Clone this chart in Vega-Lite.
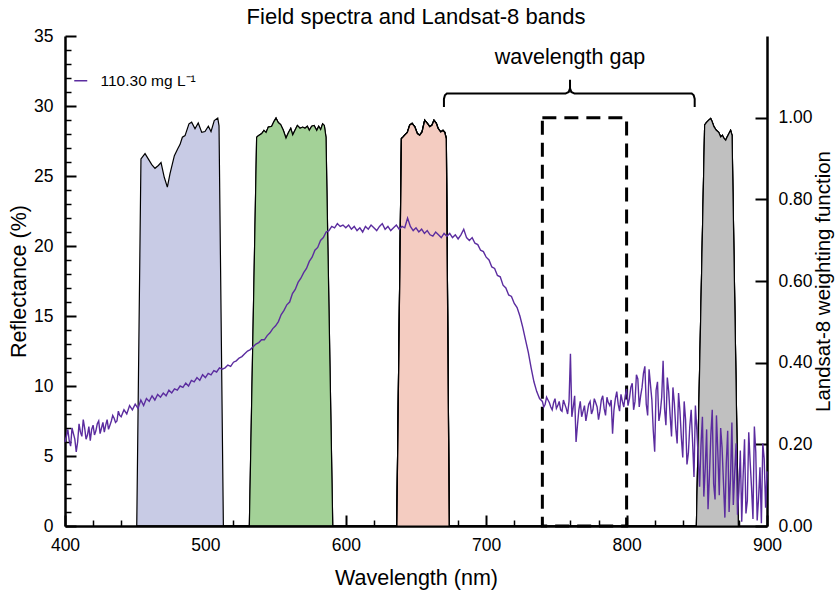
{
  "$schema": "https://vega.github.io/schema/vega-lite/v6.json",
  "width": 702,
  "height": 490,
  "autosize": {"type": "none"},
  "padding": {"left": 65, "top": 36, "right": 69, "bottom": 66},
  "background": "white",
  "config": {
    "font": "Liberation Sans",
    "view": {"stroke": null},
    "axis": {"grid": false, "domainColor": "black", "tickColor": "black", "labelColor": "black", "titleColor": "black", "labelFont": "Liberation Sans", "titleFont": "Liberation Sans", "titleFontWeight": "normal", "labelOverlap": false, "labelFlush": false}
  },
  "title": {"text": "Field spectra and Landsat-8 bands", "fontSize": 22, "fontWeight": "normal", "anchor": "middle", "offset": -2, "color": "black", "font": "Liberation Sans"},
  "datasets": {
    "bands": [
      {"band": "blue", "wl": 451.1, "w": 0},
      {"band": "blue", "wl": 454.1, "w": 0.899},
      {"band": "blue", "wl": 457.0, "w": 0.912},
      {"band": "blue", "wl": 459.3, "w": 0.899},
      {"band": "blue", "wl": 461.8, "w": 0.885},
      {"band": "blue", "wl": 464.1, "w": 0.876},
      {"band": "blue", "wl": 466.5, "w": 0.883},
      {"band": "blue", "wl": 468.4, "w": 0.890},
      {"band": "blue", "wl": 470.7, "w": 0.854},
      {"band": "blue", "wl": 472.9, "w": 0.830},
      {"band": "blue", "wl": 474.8, "w": 0.863},
      {"band": "blue", "wl": 477.9, "w": 0.907},
      {"band": "blue", "wl": 480.3, "w": 0.924},
      {"band": "blue", "wl": 481.9, "w": 0.934},
      {"band": "blue", "wl": 483.6, "w": 0.952},
      {"band": "blue", "wl": 485.5, "w": 0.956},
      {"band": "blue", "wl": 488.3, "w": 0.985},
      {"band": "blue", "wl": 490.2, "w": 0.989},
      {"band": "blue", "wl": 492.6, "w": 0.973},
      {"band": "blue", "wl": 494.9, "w": 0.987},
      {"band": "blue", "wl": 497.4, "w": 0.964},
      {"band": "blue", "wl": 499.7, "w": 0.966},
      {"band": "blue", "wl": 502.1, "w": 0.979},
      {"band": "blue", "wl": 504.0, "w": 0.966},
      {"band": "blue", "wl": 506.3, "w": 0.993},
      {"band": "blue", "wl": 508.8, "w": 0.999},
      {"band": "blue", "wl": 509.7, "w": 0.980},
      {"band": "blue", "wl": 512.8, "w": 0},
      {"band": "green", "wl": 531.3, "w": 0},
      {"band": "green", "wl": 536.5, "w": 0.952},
      {"band": "green", "wl": 537.7, "w": 0.956},
      {"band": "green", "wl": 540.1, "w": 0.961},
      {"band": "green", "wl": 541.7, "w": 0.969},
      {"band": "green", "wl": 543.2, "w": 0.964},
      {"band": "green", "wl": 544.8, "w": 0.977},
      {"band": "green", "wl": 547.2, "w": 0.979},
      {"band": "green", "wl": 548.9, "w": 0.991},
      {"band": "green", "wl": 550.3, "w": 0.999},
      {"band": "green", "wl": 551.9, "w": 0.988},
      {"band": "green", "wl": 553.6, "w": 0.983},
      {"band": "green", "wl": 555.5, "w": 0.969},
      {"band": "green", "wl": 557.4, "w": 0.950},
      {"band": "green", "wl": 559.1, "w": 0.963},
      {"band": "green", "wl": 560.8, "w": 0.974},
      {"band": "green", "wl": 562.2, "w": 0.958},
      {"band": "green", "wl": 563.8, "w": 0.969},
      {"band": "green", "wl": 565.5, "w": 0.981},
      {"band": "green", "wl": 567.4, "w": 0.974},
      {"band": "green", "wl": 569.3, "w": 0.977},
      {"band": "green", "wl": 570.9, "w": 0.974},
      {"band": "green", "wl": 572.6, "w": 0.979},
      {"band": "green", "wl": 574.0, "w": 0.969},
      {"band": "green", "wl": 575.7, "w": 0.979},
      {"band": "green", "wl": 577.4, "w": 0.981},
      {"band": "green", "wl": 579.3, "w": 0.969},
      {"band": "green", "wl": 580.7, "w": 0.979},
      {"band": "green", "wl": 582.1, "w": 0.971},
      {"band": "green", "wl": 583.5, "w": 0.985},
      {"band": "green", "wl": 584.7, "w": 0.981},
      {"band": "green", "wl": 585.9, "w": 0.952},
      {"band": "green", "wl": 590.7, "w": 0},
      {"band": "red", "wl": 636.3, "w": 0},
      {"band": "red", "wl": 639.6, "w": 0.949},
      {"band": "red", "wl": 640.8, "w": 0.953},
      {"band": "red", "wl": 642.4, "w": 0.959},
      {"band": "red", "wl": 643.8, "w": 0.964},
      {"band": "red", "wl": 645.5, "w": 0.982},
      {"band": "red", "wl": 647.2, "w": 0.986},
      {"band": "red", "wl": 649.1, "w": 0.978},
      {"band": "red", "wl": 651.0, "w": 0.961},
      {"band": "red", "wl": 652.6, "w": 0.957},
      {"band": "red", "wl": 654.3, "w": 0.965},
      {"band": "red", "wl": 656.2, "w": 0.994},
      {"band": "red", "wl": 658.1, "w": 0.986},
      {"band": "red", "wl": 659.8, "w": 0.978},
      {"band": "red", "wl": 661.4, "w": 0.982},
      {"band": "red", "wl": 662.8, "w": 0.994},
      {"band": "red", "wl": 664.5, "w": 0.986},
      {"band": "red", "wl": 665.7, "w": 0.974},
      {"band": "red", "wl": 667.6, "w": 0.965},
      {"band": "red", "wl": 669.2, "w": 0.969},
      {"band": "red", "wl": 670.5, "w": 0.964},
      {"band": "red", "wl": 671.6, "w": 0.949},
      {"band": "red", "wl": 673.7, "w": 0},
      {"band": "nir", "wl": 849.7, "w": 0},
      {"band": "nir", "wl": 855.6, "w": 0.982},
      {"band": "nir", "wl": 856.8, "w": 0.988},
      {"band": "nir", "wl": 858.5, "w": 0.994},
      {"band": "nir", "wl": 859.9, "w": 0.998},
      {"band": "nir", "wl": 860.8, "w": 0.991},
      {"band": "nir", "wl": 862.2, "w": 0.978},
      {"band": "nir", "wl": 863.9, "w": 0.969},
      {"band": "nir", "wl": 865.6, "w": 0.964},
      {"band": "nir", "wl": 867.0, "w": 0.953},
      {"band": "nir", "wl": 868.2, "w": 0.957},
      {"band": "nir", "wl": 869.4, "w": 0.949},
      {"band": "nir", "wl": 870.6, "w": 0.945},
      {"band": "nir", "wl": 871.7, "w": 0.953},
      {"band": "nir", "wl": 872.9, "w": 0.961},
      {"band": "nir", "wl": 874.1, "w": 0.969},
      {"band": "nir", "wl": 875.1, "w": 0.957},
      {"band": "nir", "wl": 879.6, "w": 0}
    ],
    "gapbox": [{"wl": 740, "wl2": 800, "w": 0, "w2": 1.0}],
    "bracket": [
      {"i": 0, "wl": 669.9, "w": 1.026},
      {"i": 1, "wl": 669.9, "w": 1.046},
      {"i": 2, "wl": 670.6, "w": 1.055},
      {"i": 3, "wl": 672.0, "w": 1.059},
      {"i": 4, "wl": 756.5, "w": 1.059},
      {"i": 5, "wl": 758.8, "w": 1.063},
      {"i": 6, "wl": 759.7, "w": 1.072},
      {"i": 7, "wl": 759.7, "w": 1.093},
      {"i": 8, "wl": 759.7, "w": 1.072},
      {"i": 9, "wl": 760.6, "w": 1.063},
      {"i": 10, "wl": 762.9, "w": 1.059},
      {"i": 11, "wl": 846.4, "w": 1.059},
      {"i": 12, "wl": 847.8, "w": 1.055},
      {"i": 13, "wl": 848.5, "w": 1.046},
      {"i": 14, "wl": 848.5, "w": 1.026}
    ],
    "gaplabel": [{"wl": 759.7, "w": 1.145, "label": "wavelength gap"}],
    "spectrum": [
      {"wl": 400, "r": 6.0}, {"wl": 402, "r": 6.9}, {"wl": 404, "r": 5.7}, {"wl": 406, "r": 6.6}, {"wl": 408, "r": 5.3},
      {"wl": 410, "r": 7.3}, {"wl": 412, "r": 6.4}, {"wl": 414, "r": 7.0}, {"wl": 416, "r": 6.5}, {"wl": 418, "r": 6.1},
      {"wl": 420, "r": 7.2}, {"wl": 422, "r": 6.8}, {"wl": 424, "r": 7.5}, {"wl": 426, "r": 7.0}, {"wl": 428, "r": 6.7},
      {"wl": 430, "r": 7.6}, {"wl": 432, "r": 7.2}, {"wl": 434, "r": 7.9}, {"wl": 436, "r": 7.4}, {"wl": 438, "r": 8.2},
      {"wl": 440, "r": 7.8}, {"wl": 442, "r": 8.3}, {"wl": 444, "r": 8.0}, {"wl": 446, "r": 8.6}, {"wl": 448, "r": 8.3},
      {"wl": 450, "r": 8.7}, {"wl": 452, "r": 8.4}, {"wl": 454, "r": 9.0}, {"wl": 456, "r": 8.6}, {"wl": 458, "r": 9.1},
      {"wl": 460, "r": 8.9}, {"wl": 462, "r": 9.3}, {"wl": 464, "r": 9.0}, {"wl": 466, "r": 9.4}, {"wl": 468, "r": 9.2},
      {"wl": 470, "r": 9.5}, {"wl": 472, "r": 9.3}, {"wl": 474, "r": 9.7}, {"wl": 476, "r": 9.5}, {"wl": 478, "r": 9.8},
      {"wl": 480, "r": 9.7}, {"wl": 482, "r": 10.0}, {"wl": 484, "r": 9.9}, {"wl": 486, "r": 10.2}, {"wl": 488, "r": 10.0},
      {"wl": 490, "r": 10.4}, {"wl": 492, "r": 10.3}, {"wl": 494, "r": 10.6}, {"wl": 496, "r": 10.4}, {"wl": 498, "r": 10.8},
      {"wl": 500, "r": 10.6}, {"wl": 502, "r": 10.9}, {"wl": 504, "r": 10.8}, {"wl": 506, "r": 11.1}, {"wl": 508, "r": 11.0},
      {"wl": 510, "r": 11.3}, {"wl": 512, "r": 11.2}, {"wl": 514, "r": 11.3}, {"wl": 516, "r": 11.5}, {"wl": 518, "r": 11.4},
      {"wl": 520, "r": 11.7}, {"wl": 522, "r": 11.8}, {"wl": 524, "r": 12.0}, {"wl": 526, "r": 12.1}, {"wl": 528, "r": 12.3},
      {"wl": 530, "r": 12.5}, {"wl": 532, "r": 12.6}, {"wl": 534, "r": 12.8}, {"wl": 536, "r": 13.0}, {"wl": 538, "r": 13.1},
      {"wl": 540, "r": 13.3}, {"wl": 542, "r": 13.3}, {"wl": 544, "r": 13.6}, {"wl": 546, "r": 13.8}, {"wl": 548, "r": 14.1},
      {"wl": 550, "r": 14.3}, {"wl": 552, "r": 14.6}, {"wl": 554, "r": 15.1}, {"wl": 556, "r": 15.4}, {"wl": 558, "r": 15.8},
      {"wl": 560, "r": 16.0}, {"wl": 562, "r": 16.6}, {"wl": 564, "r": 16.9}, {"wl": 566, "r": 17.4}, {"wl": 568, "r": 17.7},
      {"wl": 570, "r": 18.1}, {"wl": 572, "r": 18.4}, {"wl": 574, "r": 18.9}, {"wl": 576, "r": 19.2}, {"wl": 578, "r": 19.7},
      {"wl": 580, "r": 19.9}, {"wl": 582, "r": 20.4}, {"wl": 584, "r": 20.6}, {"wl": 586, "r": 21.0}, {"wl": 588, "r": 21.1},
      {"wl": 590, "r": 21.4}, {"wl": 592, "r": 21.3}, {"wl": 594, "r": 21.6}, {"wl": 596, "r": 21.4}, {"wl": 598, "r": 21.5},
      {"wl": 600, "r": 21.3}, {"wl": 602, "r": 21.5}, {"wl": 604, "r": 21.2}, {"wl": 606, "r": 21.4}, {"wl": 608, "r": 21.1},
      {"wl": 610, "r": 21.3}, {"wl": 612, "r": 21.0}, {"wl": 614, "r": 21.4}, {"wl": 616, "r": 21.2}, {"wl": 618, "r": 21.5},
      {"wl": 620, "r": 21.3}, {"wl": 622, "r": 21.1}, {"wl": 624, "r": 21.4}, {"wl": 626, "r": 21.6}, {"wl": 628, "r": 21.2},
      {"wl": 630, "r": 21.4}, {"wl": 632, "r": 21.1}, {"wl": 634, "r": 21.3}, {"wl": 636, "r": 21.5}, {"wl": 638, "r": 21.2},
      {"wl": 640, "r": 21.4}, {"wl": 642, "r": 21.3}, {"wl": 644, "r": 22.0}, {"wl": 646, "r": 21.4}, {"wl": 648, "r": 21.1},
      {"wl": 650, "r": 21.3}, {"wl": 652, "r": 21.0}, {"wl": 654, "r": 21.2}, {"wl": 656, "r": 20.9}, {"wl": 658, "r": 21.1},
      {"wl": 660, "r": 20.8}, {"wl": 662, "r": 20.7}, {"wl": 664, "r": 21.0}, {"wl": 666, "r": 20.8}, {"wl": 668, "r": 20.6},
      {"wl": 670, "r": 20.9}, {"wl": 672, "r": 20.7}, {"wl": 674, "r": 20.9}, {"wl": 676, "r": 20.6}, {"wl": 678, "r": 20.8},
      {"wl": 680, "r": 20.5}, {"wl": 682, "r": 20.8}, {"wl": 684, "r": 21.2}, {"wl": 686, "r": 20.6}, {"wl": 688, "r": 20.4},
      {"wl": 690, "r": 20.6}, {"wl": 692, "r": 20.2}, {"wl": 694, "r": 20.1}, {"wl": 696, "r": 19.7}, {"wl": 698, "r": 19.6},
      {"wl": 700, "r": 19.2}, {"wl": 702, "r": 19.0}, {"wl": 704, "r": 18.5}, {"wl": 706, "r": 18.4}, {"wl": 708, "r": 17.9},
      {"wl": 710, "r": 17.8}, {"wl": 712, "r": 17.2}, {"wl": 714, "r": 17.0}, {"wl": 716, "r": 16.5}, {"wl": 718, "r": 16.4},
      {"wl": 720, "r": 15.9}, {"wl": 722, "r": 15.6}, {"wl": 724, "r": 15.0}, {"wl": 726, "r": 14.2}, {"wl": 728, "r": 13.3},
      {"wl": 730, "r": 12.4}, {"wl": 732, "r": 11.3}, {"wl": 734, "r": 10.3}, {"wl": 736, "r": 9.6}, {"wl": 738, "r": 9.1},
      {"wl": 740, "r": 8.9}, {"wl": 742, "r": 8.7}, {"wl": 744, "r": 9.0}, {"wl": 746, "r": 8.5}, {"wl": 748, "r": 8.8},
      {"wl": 750, "r": 8.4}, {"wl": 752, "r": 8.9}, {"wl": 754, "r": 8.2}, {"wl": 756, "r": 8.7}, {"wl": 758, "r": 8.0},
      {"wl": 760, "r": 12.3}, {"wl": 762, "r": 8.5}, {"wl": 764, "r": 6.0}, {"wl": 766, "r": 8.3}, {"wl": 768, "r": 7.8},
      {"wl": 770, "r": 8.6}, {"wl": 772, "r": 8.1}, {"wl": 774, "r": 8.9}, {"wl": 776, "r": 8.3}, {"wl": 778, "r": 8.8},
      {"wl": 780, "r": 7.6}, {"wl": 782, "r": 9.0}, {"wl": 784, "r": 8.4}, {"wl": 786, "r": 9.2}, {"wl": 788, "r": 8.6},
      {"wl": 790, "r": 6.6}, {"wl": 792, "r": 9.1}, {"wl": 794, "r": 8.7}, {"wl": 796, "r": 9.4}, {"wl": 798, "r": 8.5},
      {"wl": 800, "r": 9.8}, {"wl": 802, "r": 9.1}, {"wl": 804, "r": 10.2}, {"wl": 806, "r": 8.9}, {"wl": 808, "r": 10.5},
      {"wl": 810, "r": 9.3}, {"wl": 812, "r": 10.9}, {"wl": 814, "r": 8.7}, {"wl": 816, "r": 11.2}, {"wl": 818, "r": 9.0},
      {"wl": 820, "r": 5.3}, {"wl": 822, "r": 10.3}, {"wl": 824, "r": 8.1}, {"wl": 826, "r": 11.8}, {"wl": 828, "r": 7.2},
      {"wl": 830, "r": 9.6}, {"wl": 832, "r": 6.4}, {"wl": 834, "r": 8.8}, {"wl": 836, "r": 5.9}, {"wl": 838, "r": 8.2},
      {"wl": 840, "r": 4.9}, {"wl": 842, "r": 7.6}, {"wl": 844, "r": 5.2}, {"wl": 846, "r": 8.3}, {"wl": 848, "r": 3.5},
      {"wl": 850, "r": 6.9}, {"wl": 852, "r": 2.8}, {"wl": 854, "r": 7.8}, {"wl": 856, "r": 4.1}, {"wl": 858, "r": 1.2},
      {"wl": 860, "r": 6.5}, {"wl": 862, "r": 3.0}, {"wl": 864, "r": 7.9}, {"wl": 866, "r": 2.2}, {"wl": 868, "r": 5.6},
      {"wl": 870, "r": 0.6}, {"wl": 872, "r": 6.8}, {"wl": 874, "r": 3.4}, {"wl": 876, "r": 1.5}, {"wl": 878, "r": 5.9},
      {"wl": 880, "r": 2.5}, {"wl": 882, "r": 0.3}, {"wl": 884, "r": 6.2}, {"wl": 886, "r": 1.8}, {"wl": 888, "r": 4.6},
      {"wl": 890, "r": 0.5}, {"wl": 892, "r": 5.3}, {"wl": 894, "r": 2.0}, {"wl": 896, "r": 0.2}, {"wl": 898, "r": 4.8},
      {"wl": 900, "r": 3.9},
      {"wl": 401, "r": 6.4}, {"wl": 403, "r": 6.1}, {"wl": 405, "r": 7.0}, {"wl": 407, "r": 6.2}, {"wl": 409, "r": 6.0},
      {"wl": 411, "r": 6.7}, {"wl": 413, "r": 7.6}, {"wl": 415, "r": 6.2}, {"wl": 417, "r": 7.1}, {"wl": 419, "r": 6.9},
      {"wl": 421, "r": 6.5}, {"wl": 423, "r": 7.3}, {"wl": 425, "r": 6.6}, {"wl": 427, "r": 7.4}, {"wl": 429, "r": 7.2},
      {"wl": 431, "r": 6.9}, {"wl": 433, "r": 7.5}, {"wl": 435, "r": 7.7}, {"wl": 437, "r": 7.5}, {"wl": 439, "r": 7.9},
      {"wl": 741, "r": 8.5}, {"wl": 743, "r": 9.2}, {"wl": 745, "r": 8.8}, {"wl": 747, "r": 8.3}, {"wl": 749, "r": 9.1},
      {"wl": 751, "r": 8.6}, {"wl": 753, "r": 8.3}, {"wl": 755, "r": 9.0}, {"wl": 757, "r": 8.4}, {"wl": 759, "r": 8.9},
      {"wl": 761, "r": 7.8}, {"wl": 763, "r": 9.3}, {"wl": 765, "r": 7.2}, {"wl": 767, "r": 8.9}, {"wl": 769, "r": 8.2},
      {"wl": 771, "r": 7.5}, {"wl": 773, "r": 8.7}, {"wl": 775, "r": 8.0}, {"wl": 777, "r": 9.1}, {"wl": 779, "r": 8.5},
      {"wl": 781, "r": 8.2}, {"wl": 783, "r": 9.3}, {"wl": 785, "r": 7.9}, {"wl": 787, "r": 8.8}, {"wl": 789, "r": 9.0},
      {"wl": 791, "r": 8.3}, {"wl": 793, "r": 9.6}, {"wl": 795, "r": 8.2}, {"wl": 797, "r": 8.9}, {"wl": 799, "r": 9.3},
      {"wl": 801, "r": 8.6}, {"wl": 803, "r": 9.9}, {"wl": 805, "r": 8.3}, {"wl": 807, "r": 10.8}, {"wl": 809, "r": 8.5},
      {"wl": 811, "r": 9.9}, {"wl": 813, "r": 11.4}, {"wl": 815, "r": 7.9}, {"wl": 817, "r": 10.1}, {"wl": 819, "r": 6.8},
      {"wl": 821, "r": 9.7}, {"wl": 823, "r": 7.5}, {"wl": 825, "r": 9.2}, {"wl": 827, "r": 8.4}, {"wl": 829, "r": 10.6},
      {"wl": 831, "r": 7.9}, {"wl": 833, "r": 9.9}, {"wl": 835, "r": 7.0}, {"wl": 837, "r": 9.5}, {"wl": 839, "r": 6.3},
      {"wl": 841, "r": 8.9}, {"wl": 843, "r": 4.4}, {"wl": 845, "r": 7.1}, {"wl": 847, "r": 6.0}, {"wl": 849, "r": 8.6},
      {"wl": 851, "r": 4.9}, {"wl": 853, "r": 5.8}, {"wl": 855, "r": 2.1}, {"wl": 857, "r": 6.9}, {"wl": 859, "r": 3.6},
      {"wl": 861, "r": 8.3}, {"wl": 863, "r": 1.9}, {"wl": 865, "r": 5.2}, {"wl": 867, "r": 7.0}, {"wl": 869, "r": 3.1},
      {"wl": 871, "r": 4.5}, {"wl": 873, "r": 1.0}, {"wl": 875, "r": 7.4}, {"wl": 877, "r": 3.8}, {"wl": 879, "r": 0.8},
      {"wl": 881, "r": 5.4}, {"wl": 883, "r": 3.6}, {"wl": 885, "r": 0.9}, {"wl": 887, "r": 6.7}, {"wl": 889, "r": 2.7},
      {"wl": 891, "r": 7.1}, {"wl": 893, "r": 0.4}, {"wl": 895, "r": 4.2}, {"wl": 897, "r": 5.9}, {"wl": 899, "r": 1.3}
    ]
  },
  "encoding": {
    "x": {
      "field": "wl",
      "type": "quantitative",
      "scale": {"domain": [400, 900], "nice": false, "zero": false},
      "axis": {
        "values": [400, 420, 440, 460, 480, 500, 520, 540, 560, 580, 600, 620, 640, 660, 680, 700, 720, 740, 760, 780, 800, 820, 840, 860, 880, 900],
        "labelExpr": "datum.value % 100 === 0 ? datum.label : ''",
        "tickSize": {"condition": {"test": "datum.value % 100 === 0", "value": -11}, "value": -6},
        "tickWidth": {"condition": {"test": "datum.value % 100 === 0", "value": 2}, "value": 1.5},
        "domainWidth": 2.5,
        "labelFontSize": 17.5,
        "labelPadding": 21,
        "title": "Wavelength (nm)",
        "titleFontSize": 21.5,
        "titlePadding": 9
      }
    }
  },
  "layer": [
    {
      "layer": [
        {
          "data": {"name": "bands"},
          "mark": {"type": "area", "stroke": "black", "strokeWidth": 1.2, "opacity": 1},
          "encoding": {
            "y": {
              "field": "w",
              "type": "quantitative",
              "scale": {"domain": [0, 1.2], "nice": false},
              "axis": {
                "orient": "right",
                "values": [0, 0.2, 0.4, 0.6, 0.8, 1.0],
                "format": ".2f",
                "tickSize": -12,
                "tickWidth": 2,
                "domainWidth": 2.5,
                "labelFontSize": 17.5,
                "labelPadding": 23,
                "title": "Landsat-8 weighting function",
                "titleFontSize": 20.5,
                "titleAngle": 270,
                "titleBaseline": "top",
                "titlePadding": 1
              }
            },
            "color": {
              "field": "band",
              "type": "nominal",
              "scale": {"domain": ["blue", "green", "red", "nir"], "range": ["#c8cbe5", "#a3d197", "#f4ccc1", "#c0c0c0"]},
              "legend": null
            }
          }
        },
        {
          "data": {"name": "gapbox"},
          "mark": {"type": "rect", "fill": null, "fillOpacity": 0, "stroke": "black", "strokeWidth": 3, "strokeDash": [14, 8]},
          "encoding": {
            "x2": {"field": "wl2"},
            "y": {"field": "w", "type": "quantitative"},
            "y2": {"field": "w2"}
          }
        },
        {
          "data": {"name": "bracket"},
          "mark": {"type": "line", "color": "black", "strokeWidth": 2},
          "encoding": {
            "y": {"field": "w", "type": "quantitative"},
            "order": {"field": "i", "type": "quantitative"}
          }
        },
        {
          "data": {"name": "gaplabel"},
          "mark": {"type": "text", "fontSize": 21.5, "color": "black", "baseline": "middle", "align": "center", "font": "Liberation Sans"},
          "encoding": {
            "y": {"field": "w", "type": "quantitative"},
            "text": {"field": "label"}
          }
        }
      ]
    },
    {
      "data": {"name": "spectrum"},
      "mark": {"type": "line", "strokeWidth": 1.4},
      "encoding": {
        "y": {
          "field": "r",
          "type": "quantitative",
          "scale": {"domain": [0, 35], "nice": false},
          "axis": {
            "orient": "left",
            "values": [0, 1, 2, 3, 4, 5, 6, 7, 8, 9, 10, 11, 12, 13, 14, 15, 16, 17, 18, 19, 20, 21, 22, 23, 24, 25, 26, 27, 28, 29, 30, 31, 32, 33, 34, 35],
            "labelExpr": "datum.value % 5 === 0 ? datum.label : ''",
            "tickSize": {"condition": {"test": "datum.value % 5 === 0", "value": -11}, "value": -6},
            "tickWidth": {"condition": {"test": "datum.value % 5 === 0", "value": 2}, "value": 1.5},
            "domainWidth": 2.5,
            "labelFontSize": 17.5,
            "labelPadding": 23,
            "title": "Reflectance (%)",
            "titleFontSize": 21.5,
            "titlePadding": 3
          }
        },
        "stroke": {
          "datum": "110.30 mg L⁻¹",
          "type": "nominal",
          "scale": {"range": ["#5b2c9f"]},
          "legend": {
            "title": null,
            "orient": "none",
            "legendX": 8,
            "legendY": 37,
            "symbolType": "stroke",
            "symbolSize": 169,
            "symbolStrokeWidth": 1.5,
            "labelFontSize": 15.5,
            "labelFont": "Liberation Sans",
            "labelColor": "black",
            "labelOffset": 12,
            "padding": 0
          }
        }
      }
    }
  ],
  "resolve": {"scale": {"y": "independent"}, "axis": {"y": "independent"}}
}
